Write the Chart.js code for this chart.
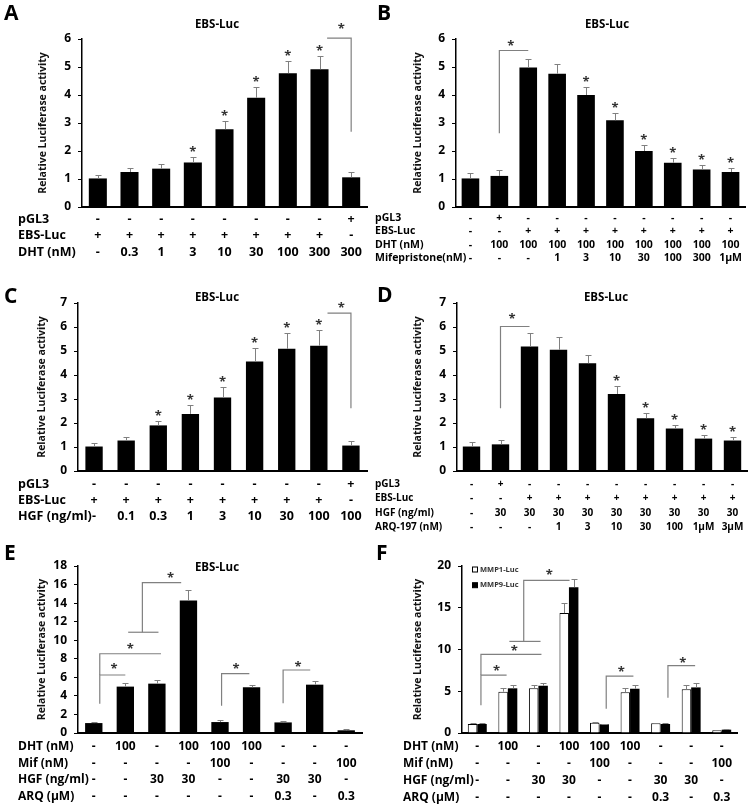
<!DOCTYPE html>
<html lang="en">
<head>
<meta charset="utf-8">
<title>EBS-Luc</title>
<script src="https://cdn.jsdelivr.net/npm/chart.js@4.4.1/dist/chart.umd.min.js"></script>
<style>
body{margin:0;background:#fff;}
#figure{position:relative;width:751px;height:808px;overflow:hidden;}
#figure canvas{position:absolute;}
</style>
</head>
<body>
<div id="figure">
<canvas id="panelA" width="375" height="270" style="left:0;top:0"></canvas>
<canvas id="panelB" width="376" height="270" style="left:375px;top:0"></canvas>
<canvas id="panelC" width="375" height="270" style="left:0;top:270px"></canvas>
<canvas id="panelD" width="376" height="270" style="left:375px;top:270px"></canvas>
<canvas id="panelE" width="375" height="268" style="left:0;top:540px"></canvas>
<canvas id="panelF" width="376" height="268" style="left:375px;top:540px"></canvas>
</div>
<script>
// ======================================
// Data
// brackets: [from, to, level, foot of "from", foot of "to"] in category / value units
// bracket stars: [category, value]
// ======================================

// A - DHT dose response
const rowsA = ["pGL3", "EBS-Luc", "DHT (nM)"];
const pgl3A = ["-","-","-","-","-","-","-","-","+"];
const ebsA = ["+","+","+","+","+","+","+","+","-"];
const dhtA = ["-","0.3","1","3","10","30","100","300","300"];
const valuesA = [1.02,1.25,1.37,1.59,2.78,3.9,4.78,4.92,1.06];
const errorsA = [0.14,0.15,0.18,0.2,0.29,0.38,0.44,0.46,0.19];
const starsA = [3,4,5,6,7];
const bracketsA = [[7.24,8,6.03,6.03,2.69]];
const bracketStarsA = [[7.69,6.45]];

// B - Mifepristone
const rowsB = ["pGL3", "EBS-Luc", "DHT (nM)", "Mifepristone(nM)"];
const pgl3B = ["-","+","-","-","-","-","-","-","-","-"];
const ebsB = ["-","-","+","+","+","+","+","+","+","+"];
const dhtB = ["-","100","100","100","100","100","100","100","100","100"];
const mifB = ["-","-","-","1","3","10","30","100","300","1μM"];
const valuesB = [1.02,1.11,4.98,4.76,4.0,3.1,2.0,1.58,1.34,1.25];
const errorsB = [0.18,0.2,0.3,0.34,0.3,0.25,0.21,0.18,0.15,0.15];
const starsB = [4,5,6,7,8,9];
const bracketsB = [[1,2,5.59,2.63,5.59]];
const bracketStarsB = [[1.4,5.85]];

// C - HGF dose response
const rowsC = ["pGL3", "EBS-Luc", "HGF (ng/ml)"];
const pgl3C = ["-","-","-","-","-","-","-","-","+"];
const ebsC = ["+","+","+","+","+","+","+","+","-"];
const hgfC = ["-","0.1","0.3","1","3","10","30","100","100"];
const valuesC = [1.02,1.27,1.9,2.38,3.06,4.56,5.09,5.22,1.06];
const errorsC = [0.13,0.13,0.19,0.36,0.46,0.56,0.68,0.66,0.18];
const starsC = [2,3,4,5,6,7];
const bracketsC = [[7.27,8,6.58,6.58,2.61]];
const bracketStarsC = [[7.7,6.93]];

// D - ARQ-197
const rowsD = ["pGL3", "EBS-Luc", "HGF (ng/ml)", "ARQ-197 (nM)"];
const pgl3D = ["-","+","-","-","-","-","-","-","-","-"];
const ebsD = ["-","-","+","+","+","+","+","+","+","+"];
const hgfD = ["-","30","30","30","30","30","30","30","30","30"];
const arqD = ["-","-","-","1","3","10","30","100","1μM","3μM"];
const valuesD = [1.02,1.11,5.19,5.05,4.49,3.21,2.2,1.77,1.35,1.27];
const errorsD = [0.18,0.18,0.55,0.55,0.35,0.34,0.23,0.16,0.15,0.13];
const starsD = [5,6,7,8,9];
const bracketsD = [[1,2,6.02,2.61,6.02]];
const bracketStarsD = [[1.4,6.44]];

// E and F - combinations
const rowsEF = ["DHT (nM)", "Mif (nM)", "HGF (ng/ml)", "ARQ (μM)"];
const dhtEF = ["-","100","-","100","100","100","-","-","-"];
const mifEF = ["-","-","-","-","100","-","-","-","100"];
const hgfEF = ["-","-","30","30","-","-","30","30","-"];
const arqEF = ["-","-","-","-","-","-","0.3","-","0.3"];

const valuesE = [1.07,5.0,5.32,14.29,1.18,4.93,1.14,5.21,0.29];
const errorsE = [0.13,0.36,0.43,1.07,0.25,0.28,0.11,0.43,0.1];
const bracketsE = [[0.19,1.0,6.25,3.14,6.25],[0.19,2.13,8.54,6.25,8.54],[1.09,2.05,10.86,10.86,10.86],
                   [1.54,2.77,16.21,10.86,16.21],[4.05,4.93,6.39,2.93,6.39],[6.0,6.86,6.79,3.21,6.79]];
const bracketStarsE = [[0.64,7.21],[1.16,9.39],[2.43,17.07],[4.51,7.17],[6.47,7.43]];

const valuesMMP1 = [1.08,4.95,5.35,14.36,1.24,4.87,1.16,5.23,0.32];
const errorsMMP1 = [0.08,0.44,0.35,1.2,0.1,0.48,0.08,0.47,0.08];
const valuesMMP9 = [1.08,5.35,5.66,17.47,1.04,5.3,1.08,5.46,0.4];
const errorsMMP9 = [0.12,0.43,0.34,1.0,0.08,0.4,0.1,0.52,0.1];
const bracketsF = [[0.12,0.96,6.94,3.31,6.94],[0.12,2.1,9.41,6.94,9.41],[1.05,2.07,10.97,10.97,10.97],
                   [1.52,3.02,18.27,10.97,18.27],[4.22,5.11,6.82,2.91,6.82],[6.24,7.13,8.06,4.23,8.06]];
const bracketStarsF = [[0.63,7.82],[1.21,10.12],[2.36,19.27],[4.71,7.7],[6.73,8.78]];


// ======================================
// Helpers
// ======================================

const FONT = "'Open Sans', 'DejaVu Sans', sans-serif";
Chart.defaults.font.family = FONT;
Chart.defaults.color = "#000";

const panels = {};

// one multi-line tick label per bar, one line per table row
function columns(...rows) {
  return rows[0].map((_, i) => rows.map(r => r[i]));
}

// letter, title, table row names, error bars, stars, brackets, legend
const extrasPlugin = {
  id: "extras",
  afterDraw(chart) {
    const p = panels[chart.canvas.id];
    const ctx = chart.ctx;
    const xs = chart.scales.x;
    const ys = chart.scales.y;

    ctx.save();
    ctx.fillStyle = "#000";
    ctx.textAlign = "left";
    ctx.textBaseline = "alphabetic";
    ctx.font = "bold 21px " + FONT;
    ctx.fillText(p.letter, p.letterPos[0], p.letterPos[1]);

    if (p.title) {
      ctx.font = "bold 11.5px " + FONT;
      ctx.textAlign = "center";
      ctx.textBaseline = "middle";
      ctx.fillText(p.title, p.titlePos[0], p.titlePos[1]);
    }

    ctx.font = "bold " + p.rowFont + "px " + FONT;
    ctx.textAlign = "left";
    ctx.textBaseline = "middle";
    p.rows.forEach((name, i) => {
      ctx.fillText(name, p.rowX, xs.top + p.rowPad + p.rowLine * (i + 0.5));
    });

    // error bars (upper half only)
    ctx.strokeStyle = "#808080";
    ctx.lineWidth = 1;
    p.errors.forEach((errs, d) => {
      const values = chart.data.datasets[d].data;
      chart.getDatasetMeta(d).data.forEach((bar, i) => {
        const x = Math.round(bar.x) + 0.5;
        const top = Math.round(ys.getPixelForValue(values[i] + errs[i])) + 0.5;
        ctx.beginPath();
        ctx.moveTo(x, bar.y);
        ctx.lineTo(x, top);
        ctx.moveTo(x - 3, top);
        ctx.lineTo(x + 3, top);
        ctx.stroke();
      });
    });

    // brackets
    ctx.lineWidth = 1.2;
    p.brackets.forEach(b => {
      const x1 = xs.getPixelForValue(b[0]);
      const x2 = xs.getPixelForValue(b[1]);
      const level = ys.getPixelForValue(b[2]);
      ctx.beginPath();
      ctx.moveTo(x1, ys.getPixelForValue(b[3]));
      ctx.lineTo(x1, level);
      ctx.lineTo(x2, level);
      ctx.lineTo(x2, ys.getPixelForValue(b[4]));
      ctx.stroke();
    });

    // stars
    ctx.fillStyle = "#333";
    ctx.font = "bold 13px " + FONT;
    ctx.textAlign = "center";
    ctx.textBaseline = "alphabetic";
    const bars = chart.getDatasetMeta(0).data;
    p.stars.forEach(i => {
      const v = chart.data.datasets[0].data[i] + p.errors[0][i];
      ctx.fillText("*", bars[i].x, ys.getPixelForValue(v) - 1);
    });
    p.bracketStars.forEach(s => {
      ctx.fillText("*", xs.getPixelForValue(s[0]), ys.getPixelForValue(s[1]) + 7);
    });

    // legend inside the plot (panel F)
    if (p.legend) {
      ctx.font = "bold 7.5px " + FONT;
      ctx.textAlign = "left";
      ctx.textBaseline = "middle";
      chart.data.datasets.forEach((ds, k) => {
        const x = chart.chartArea.left + 10.5;
        const y = chart.chartArea.top + 3.5 + k * 15.7;
        ctx.fillStyle = ds.backgroundColor;
        ctx.strokeStyle = "#000";
        ctx.lineWidth = 1;
        ctx.fillRect(x, y - 2.5, 5, 5);
        ctx.strokeRect(x, y - 2.5, 5, 5);
        ctx.fillStyle = "#333";
        ctx.fillText(ds.label, x + 7.5, y);
      });
    }
    ctx.restore();
  }
};

function buildPanel(id, p) {
  const canvas = document.getElementById(id);
  if (!canvas) return;
  panels[id] = p;
  const w = canvas.width;
  const h = canvas.height;
  const a = p.area;

  new Chart(canvas, {
    type: "bar",
    data: {
      labels: p.labels,
      datasets: p.datasets
    },
    options: {
      responsive: false,
      animation: false,
      layout: {
        padding: { left: 0, top: a.t, right: w - a.r, bottom: 0 }
      },
      datasets: {
        bar: { barPercentage: p.barPct, categoryPercentage: p.catPct }
      },
      plugins: {
        legend: { display: false },
        tooltip: { enabled: false }
      },
      scales: {
        x: {
          grid: { display: true, drawOnChartArea: false, drawTicks: false },
          border: { color: "#000", width: 2 },
          ticks: {
            autoSkip: false,
            maxRotation: 0,
            padding: p.rowPad,
            color: "#000",
            font: { weight: "bold", size: p.rowFont, lineHeight: p.rowLine / p.rowFont }
          },
          afterFit(s) { s.height = h - a.b; }
        },
        y: {
          min: 0,
          max: p.yMax,
          grid: { drawOnChartArea: false, drawTicks: true, tickLength: 4, color: "#000" },
          border: { color: "#000", width: 1.5 },
          ticks: { stepSize: p.yStep, padding: 7, color: "#000", font: { weight: "bold", size: 12 } },
          title: {
            display: true,
            text: "Relative Luciferase activity",
            color: "#111",
            font: { weight: "bold", size: 10.5 },
            padding: { top: p.yTitleX - 6.3, bottom: 0 }
          },
          afterFit(s) { s.width = a.l; }
        }
      }
    },
    plugins: [extrasPlugin]
  });
}

function blackBars(values) {
  return [{ data: values, backgroundColor: "#000", borderWidth: 0 }];
}


// ======================================
// Panels
// ======================================

buildPanel("panelA", {
  letter: "A", letterPos: [4, 20], title: "EBS-Luc", titlePos: [217, 25],
  area: { l: 82, t: 39, r: 367, b: 207 }, yMax: 6, yStep: 1, yTitleX: 43,
  rows: rowsA, rowX: 18, rowFont: 12.5, rowLine: 16.5, rowPad: 4,
  labels: columns(pgl3A, ebsA, dhtA),
  datasets: blackBars(valuesA), errors: [errorsA], barPct: 0.57, catPct: 1,
  stars: starsA, brackets: bracketsA, bracketStars: bracketStarsA
});

buildPanel("panelB", {
  letter: "B", letterPos: [2, 20], title: "EBS-Luc", titlePos: [232, 25],
  area: { l: 81, t: 39, r: 370, b: 207 }, yMax: 6, yStep: 1, yTitleX: 43.3,
  rows: rowsB, rowX: 0, rowFont: 10.5, rowLine: 13.5, rowPad: 4.2,
  labels: columns(pgl3B, ebsB, dhtB, mifB),
  datasets: blackBars(valuesB), errors: [errorsB], barPct: 0.61, catPct: 1,
  stars: starsB, brackets: bracketsB, bracketStars: bracketStarsB
});

buildPanel("panelC", {
  letter: "C", letterPos: [4, 33], title: "EBS-Luc", titlePos: [217, 28],
  area: { l: 78, t: 33, r: 367, b: 201 }, yMax: 7, yStep: 1, yTitleX: 41.7,
  rows: rowsC, rowX: 18, rowFont: 12.5, rowLine: 16.3, rowPad: 4.8,
  labels: columns(pgl3C, ebsC, hgfC),
  datasets: blackBars(valuesC), errors: [errorsC], barPct: 0.54, catPct: 1,
  stars: starsC, brackets: bracketsC, bracketStars: bracketStarsC
});

buildPanel("panelD", {
  letter: "D", letterPos: [2, 32], title: "EBS-Luc", titlePos: [231, 28],
  area: { l: 82, t: 33, r: 372, b: 201 }, yMax: 7, yStep: 1, yTitleX: 43.3,
  rows: rowsD, rowX: 0, rowFont: 10, rowLine: 14.3, rowPad: 6.2,
  labels: columns(pgl3D, ebsD, hgfD, arqD),
  datasets: blackBars(valuesD), errors: [errorsD], barPct: 0.6, catPct: 1,
  stars: starsD, brackets: bracketsD, bracketStars: bracketStarsD
});

buildPanel("panelE", {
  letter: "E", letterPos: [4, 20], title: "EBS-Luc", titlePos: [217, 28],
  area: { l: 78, t: 26, r: 362, b: 193 }, yMax: 18, yStep: 2, yTitleX: 41.7,
  rows: rowsEF, rowX: 18, rowFont: 12, rowLine: 16.8, rowPad: 5,
  labels: columns(dhtEF, mifEF, hgfEF, arqEF),
  datasets: blackBars(valuesE), errors: [errorsE], barPct: 0.55, catPct: 1,
  stars: [], brackets: bracketsE, bracketStars: bracketStarsE
});

buildPanel("panelF", {
  letter: "F", letterPos: [1, 20], title: null, titlePos: null,
  area: { l: 87, t: 26, r: 362, b: 193 }, yMax: 20, yStep: 5, yTitleX: 43.3,
  rows: rowsEF, rowX: 28, rowFont: 12, rowLine: 16.8, rowPad: 5.6,
  labels: columns(dhtEF, mifEF, hgfEF, arqEF),
  datasets: [
    { label: "MMP1-Luc", data: valuesMMP1, backgroundColor: "#fff", borderColor: "#000", borderWidth: 1 },
    { label: "MMP9-Luc", data: valuesMMP9, backgroundColor: "#000", borderWidth: 0 }
  ],
  errors: [errorsMMP1, errorsMMP9], barPct: 1, catPct: 0.62,
  stars: [], brackets: bracketsF, bracketStars: bracketStarsF, legend: true
});
</script>
</body>
</html>
